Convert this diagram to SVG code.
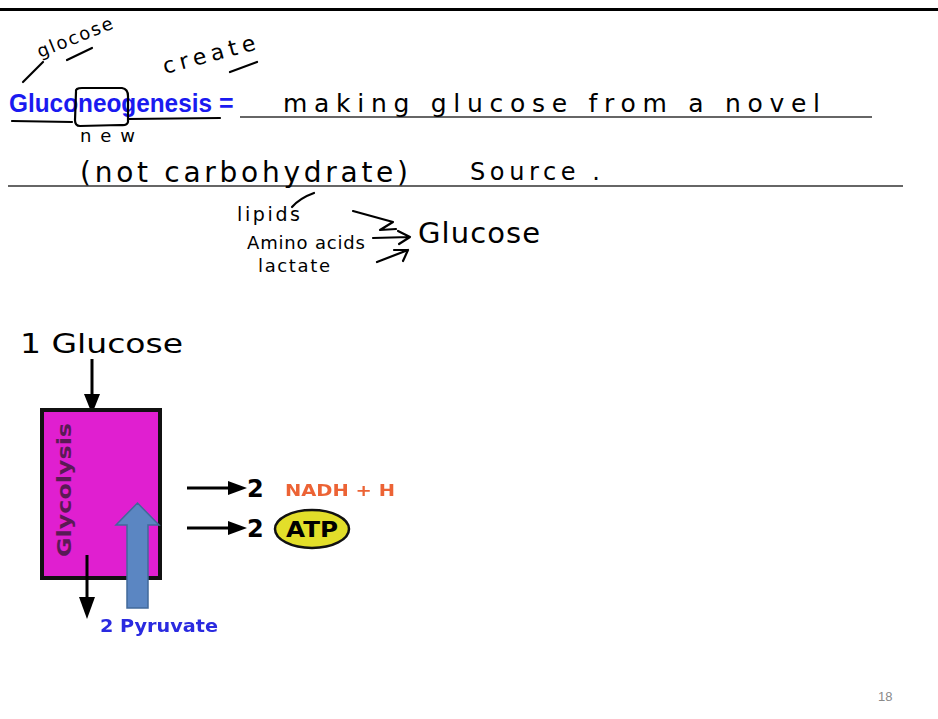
<svg xmlns="http://www.w3.org/2000/svg" width="938" height="719" viewBox="0 0 938 719">
  <style>
    .hand { font-family: "DejaVu Sans", "Noto Sans", sans-serif; fill: #000; }
    .ink { fill: none; stroke: #000; stroke-width: 2.2; stroke-linecap: round; stroke-linejoin: round; }
    .rule { stroke: #333; stroke-width: 1.6; }
    .comic { font-family: "DejaVu Sans", "Liberation Sans", sans-serif; }
    .shaft { stroke: #000; stroke-width: 3; }
  </style>
  <defs>
    <filter id="soft" x="-5%" y="-20%" width="110%" height="140%">
      <feGaussianBlur stdDeviation="0.7"/>
    </filter>
  </defs>

  <rect width="938" height="719" fill="#fff"/>
  <!-- slide header bar -->
  <rect x="0" y="8" width="938" height="3" fill="#000"/>

  <!-- definition line -->
  <g id="title">
    <text x="9" y="112" font-family="'Liberation Sans', Arial, sans-serif" font-weight="bold" font-size="25" fill="#1a1af0" textLength="203" lengthAdjust="spacingAndGlyphs">Gluconeogenesis</text>
    <text x="219" y="112" font-family="'Liberation Sans', Arial, sans-serif" font-weight="bold" font-size="25" fill="#1a1af0">=</text>
  </g>
  <line class="rule" x1="240" y1="117" x2="872" y2="117"/>
  <line class="rule" x1="8" y1="186" x2="903" y2="186"/>

  <g id="notes">
    <text class="hand" x="283" y="112" font-size="25" textLength="537" lengthAdjust="spacing">making glucose from a novel</text>
    <text class="hand" x="80" y="182" font-size="28" textLength="328" lengthAdjust="spacing">(not carbohydrate)</text>
    <text class="hand" x="470" y="180" font-size="24" textLength="130" lengthAdjust="spacing">Source .</text>
    <text class="hand" x="237" y="221" font-size="19" textLength="63" lengthAdjust="spacing">lipids</text>
    <text class="hand" x="247" y="249" font-size="18" textLength="118" lengthAdjust="spacing">Amino acids</text>
    <text class="hand" x="258" y="272" font-size="18" textLength="72" lengthAdjust="spacing">lactate</text>
    <text class="hand" x="418" y="243" font-size="29" textLength="122" lengthAdjust="spacing">Glucose</text>
    <text class="hand" x="0" y="0" font-size="18" textLength="80" lengthAdjust="spacing" transform="translate(40 58) rotate(-22)">glocose</text>
    <text class="hand" x="0" y="0" font-size="22" textLength="95" lengthAdjust="spacing" transform="translate(165 74) rotate(-15)">create</text>
    <text class="hand" x="80" y="142" font-size="18" textLength="55" lengthAdjust="spacing">new</text>
  </g>

  <!-- pen strokes -->
  <g id="strokes">
    <path class="ink" d="M23 82 L43 62"/>
    <path class="ink" d="M67 60 L92 48"/>
    <path class="ink" stroke-width="3.2" d="M230 72 L257 62"/>
    <path class="ink" stroke-width="3.2" d="M12 121 L72 122"/>
    <path class="ink" d="M128 119 L220 118"/>
    <path class="ink" d="M76 92 Q75 88 82 88 L122 88 Q128 89 128 96 L128 122 Q127 126 120 125 L80 126 Q75 126 75 120 Z"/>
    <!-- arrows into Glucose -->
    <path class="ink" d="M353 211 L393 222 L380 230 L396 229"/>
    <path class="ink" d="M373 238 L410 237 M398 231 L410 237 L399 244"/>
    <path class="ink" d="M377 262 L408 250 M394 250 L408 250 L403 261"/>
    <path class="ink" d="M292 207 Q300 198 314 193"/>
  </g>

  <!-- glycolysis schematic -->
  <g id="glucose-in">
    <text class="comic" x="20" y="353" font-size="26" textLength="163" lengthAdjust="spacingAndGlyphs">1 Glucose</text>
    <line class="shaft" x1="92" y1="359" x2="92" y2="398"/>
    <polygon points="84,394 100,394 92,414" fill="#000"/>
  </g>

  <g id="glycolysis">
    <rect x="42" y="410" width="118" height="168" fill="#e01fd0" stroke="#111" stroke-width="4"/>
    <text class="comic" font-size="20" font-weight="bold" fill="#5a1a55" text-anchor="middle" transform="translate(71 490) rotate(-90)" textLength="134" lengthAdjust="spacingAndGlyphs">Glycolysis</text>
  </g>

  <g id="pyruvate">
    <line class="shaft" x1="87" y1="555" x2="87" y2="600"/>
    <polygon points="79,597 95,597 87,619" fill="#000"/>
    <text class="comic" x="100" y="632" font-size="17" font-weight="bold" fill="#2a2ae0" textLength="118" lengthAdjust="spacingAndGlyphs" filter="url(#soft)">2 Pyruvate</text>
  </g>

  <g id="reverse-arrow">
    <polygon points="127,608 148,608 148,525 159,525 137.5,503 116,525 127,525" fill="#5b86c2" stroke="#41699a" stroke-width="1.5"/>
  </g>

  <g id="nadh">
    <line class="shaft" x1="187" y1="488" x2="232" y2="488"/>
    <polygon points="228,481 247,488 228,495" fill="#000"/>
    <text class="comic" x="247" y="497" font-size="24" font-weight="bold">2</text>
    <text class="comic" x="285" y="496" font-size="15" font-weight="bold" fill="#ec6436" textLength="110" lengthAdjust="spacingAndGlyphs" filter="url(#soft)">NADH + H</text>
  </g>

  <g id="atp">
    <line class="shaft" x1="187" y1="528" x2="232" y2="528"/>
    <polygon points="228,521 247,528 228,535" fill="#000"/>
    <text class="comic" x="247" y="537" font-size="24" font-weight="bold">2</text>
    <ellipse cx="312" cy="529" rx="37" ry="19" fill="#e2de2a" stroke="#111" stroke-width="2.5"/>
    <text class="comic" x="312" y="537" font-size="21" font-weight="bold" text-anchor="middle" textLength="52" lengthAdjust="spacingAndGlyphs">ATP</text>
  </g>

  <text x="878" y="701" font-family="'Liberation Sans', Arial, sans-serif" font-size="13" fill="#8a8a8a">18</text>
</svg>
